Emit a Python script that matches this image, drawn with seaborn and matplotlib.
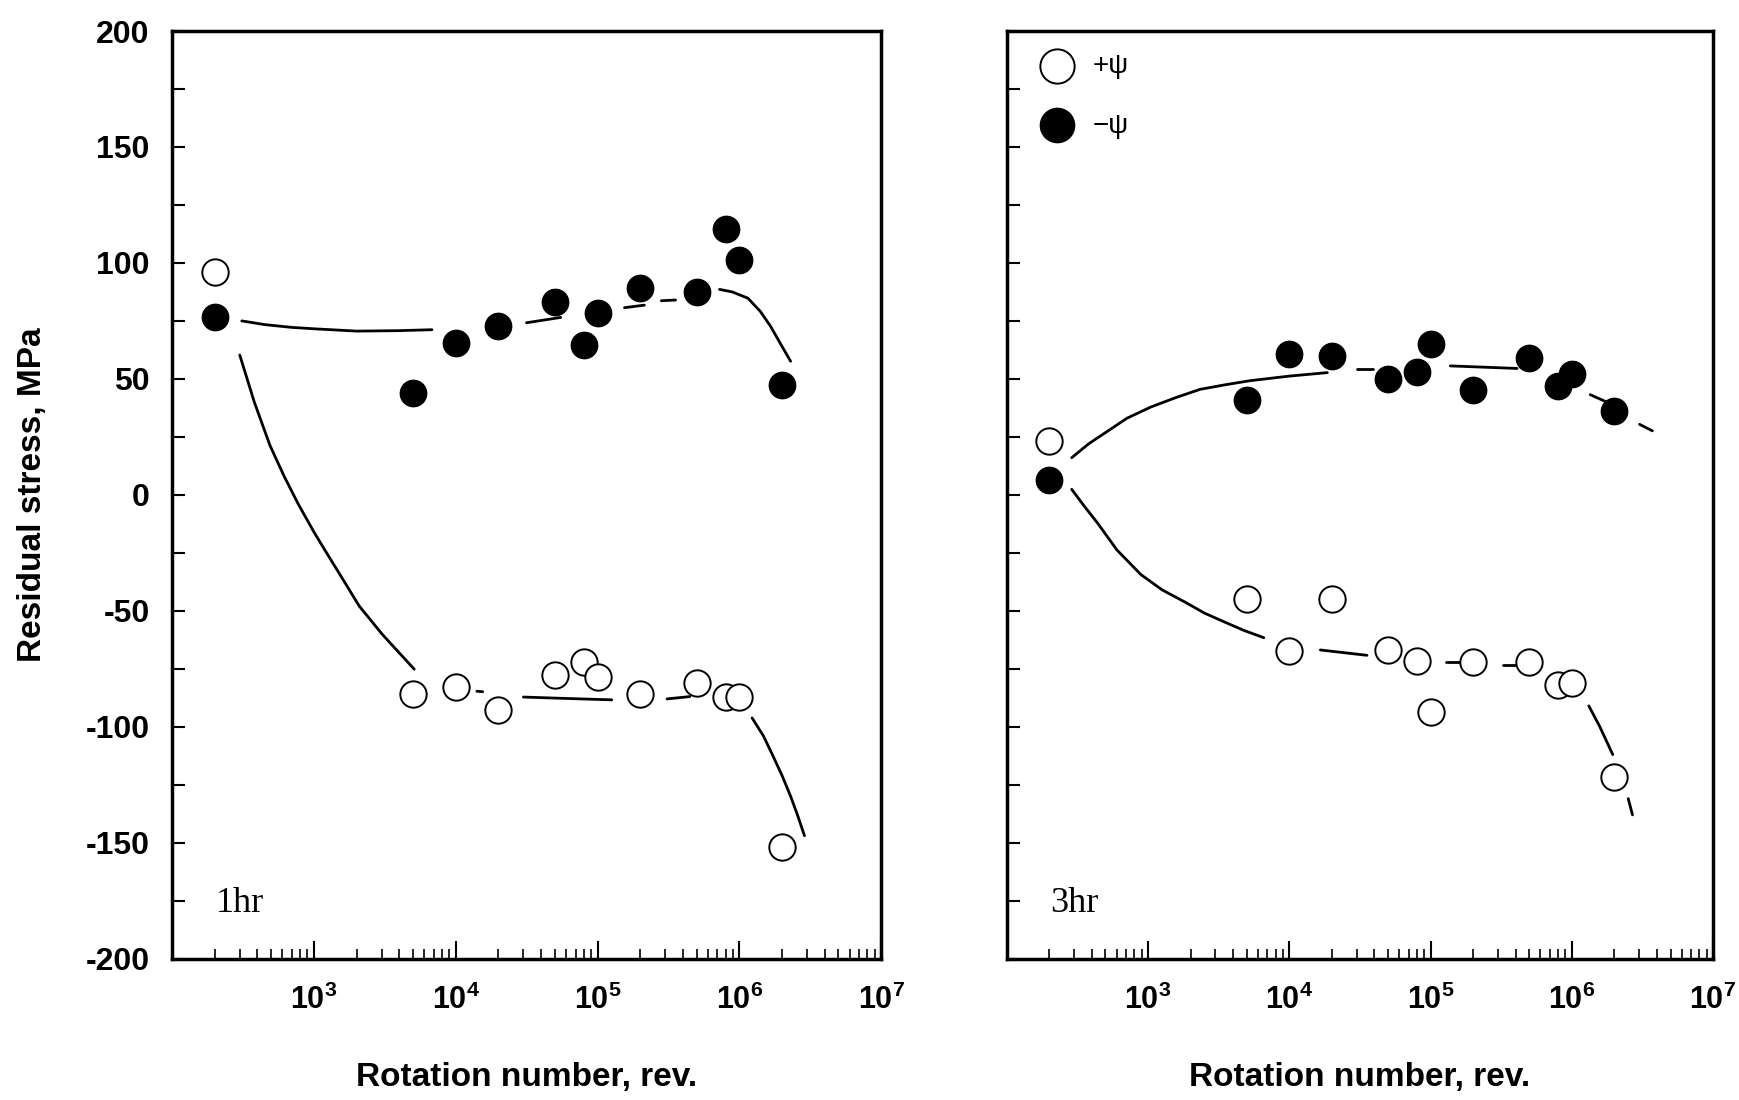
import pandas as pd
import matplotlib
matplotlib.use("Agg")
import matplotlib.pyplot as plt
import matplotlib.ticker as mticker
import seaborn as sns

# rotation numbers where stress was measured (rev.)
rev = [200, 5000, 1e4, 2e4, 5e4, 8e4, 1e5, 2e5, 5e5, 8e5, 1e6, 2e6]

# 1hr: residual stress, MPa
hr1_pos = [96, -86, -83, -92.6, -77.5, -72, -78.6, -86, -81, -87, -87, -152]
hr1_neg = [76.5, 44, 65.5, 72.7, 83.3, 64.4, 78.3, 89.3, 87.5, 114.7, 101.4, 47.4]

# 3hr: residual stress, MPa
hr3_pos = [23, -45, -67.4, -45, -67, -71.5, -93.8, -72, -72, -82, -81.3, -121.8]
hr3_neg = [6.2, 40.9, 60.6, 59.9, 50, 53, 65.1, 45, 59.1, 47, 52.3, 36.1]

# hand drawn trend curves, broken into pieces
hr1_neg_curve_rev = [310, 450, 700, 1000, 2000, 4000, 6800,
                     31600, 55000, 155000, 214000, 282000, 355000,
                     725000, 891000, 1150000, 1410000, 1660000, 2000000, 2300000]
hr1_neg_curve_val = [75, 73.4, 72.2, 71.6, 70.6, 70.8, 71.2,
                     74.2, 76.5, 80.7, 81.8, 83.7, 84,
                     88.6, 87.5, 84.8, 79, 72.7, 64, 57.6]
hr1_neg_curve_seg = [0, 0, 0, 0, 0, 0, 0, 1, 1, 2, 2, 3, 3, 4, 4, 4, 4, 4, 4, 4]

hr1_pos_curve_rev = [300, 380, 490, 617, 776, 1000, 1200, 1660, 2090, 3020, 3980, 5100,
                     14100, 15500, 30000, 60000, 126000, 309000, 447000,
                     1230000, 1480000, 1740000, 2000000, 2290000, 2570000, 2880000]
hr1_pos_curve_val = [60.3, 40, 21.3, 8, -4, -16, -24, -38, -48, -60, -68, -75.2,
                     -84.7, -84.9, -87.2, -87.8, -88.4, -88, -87,
                     -96.2, -104, -113, -121, -129.7, -138, -147]
hr1_pos_curve_seg = [0] * 12 + [1, 1, 2, 2, 2, 3, 3] + [4] * 7

hr3_neg_curve_rev = [288, 380, 513, 708, 1050, 1585, 2340, 3550, 5250, 10000, 18600,
                     30200, 38900, 138000, 410000, 1350000, 1740000, 3020000, 3720000]
hr3_neg_curve_val = [16, 22, 27.3, 33, 37.9, 42, 45.5, 47.5, 49.2, 51.2, 52.7,
                     54.2, 54.2, 55.6, 54.5, 43.2, 40.2, 30.4, 27.6]
hr3_neg_curve_seg = [0] * 11 + [1, 1, 2, 2, 3, 3, 4, 4]

hr3_pos_curve_rev = [288, 355, 437, 603, 891, 1260, 1860, 2510, 3470, 4790, 6600,
                     16600, 35500, 129000, 170000, 324000, 417000,
                     1320000, 1580000, 1950000, 2510000, 2690000]
hr3_pos_curve_val = [2.4, -5, -12, -23.8, -34.4, -41, -46.5, -51, -54.8, -58.5, -61.6,
                     -66.9, -69.2, -72.2, -72.2, -73.4, -73.4,
                     -91, -100, -112, -131, -138]
hr3_pos_curve_seg = [0] * 11 + [1, 1, 2, 2, 3, 3, 4, 4, 4, 5, 5]

xtick_vals = [1e3, 1e4, 1e5, 1e6, 1e7]
xtick_labels = [r"$\mathrm{10^{3}}$", r"$\mathrm{10^{4}}$", r"$\mathrm{10^{5}}$",
                r"$\mathrm{10^{6}}$", r"$\mathrm{10^{7}}$"]

sns.set_theme(style="ticks")
plt.rcParams["font.family"] = ["Liberation Sans", "DejaVu Sans"]
plt.rcParams["mathtext.fontset"] = "custom"
plt.rcParams["mathtext.rm"] = "Liberation Sans:bold"
plt.rcParams["axes.unicode_minus"] = False
for key in ["text.color", "axes.labelcolor", "xtick.color", "ytick.color", "axes.edgecolor"]:
    plt.rcParams[key] = "black"

fig = plt.figure(figsize=(17.4, 11), dpi=100)
ax1 = fig.add_axes([0.0989, 0.1285, 0.4075, 0.8433])
ax2 = fig.add_axes([0.5786, 0.1285, 0.4059, 0.8433])


def draw_panel(ax, pos, neg, curves, tag, show_legend):
    ax.set_xscale("log")
    for c_rev, c_val, c_seg in curves:
        dfc = pd.DataFrame({"rev": c_rev, "stress": c_val, "seg": c_seg})
        sns.lineplot(data=dfc, x="rev", y="stress", units="seg", estimator=None,
                     sort=False, color="black", lw=2.0, ax=ax, legend=False)
    sns.scatterplot(x=rev, y=pos, marker="o", s=360, color="white",
                    edgecolor="black", linewidth=1.4, ax=ax, zorder=3,
                    label="+\u03c8" if show_legend else None)
    sns.scatterplot(x=rev, y=neg, marker="o", s=360, color="black",
                    edgecolor="black", linewidth=1.0, ax=ax, zorder=3,
                    label="\u2212\u03c8" if show_legend else None)

    ax.set_xlim(1e2, 1e7)
    ax.set_ylim(-200, 200)
    ax.xaxis.set_major_locator(mticker.FixedLocator(xtick_vals))
    ax.xaxis.set_major_formatter(mticker.FixedFormatter(xtick_labels))
    ax.xaxis.set_minor_locator(mticker.LogLocator(base=10, subs=range(2, 10), numticks=20))
    ax.xaxis.set_minor_formatter(mticker.NullFormatter())
    ax.yaxis.set_major_locator(mticker.MultipleLocator(50))
    ax.yaxis.set_minor_locator(mticker.MultipleLocator(25))
    ax.tick_params(axis="x", which="major", direction="in", length=13, width=1.5,
                   labelsize=22, pad=19)
    ax.tick_params(axis="x", which="minor", direction="in", length=7, width=1.2)
    ax.tick_params(axis="y", which="both", direction="in", length=9, width=1.5,
                   labelsize=23, pad=16)
    for t in ax.get_yticklabels():
        t.set_fontweight("bold")
    for sp in ax.spines.values():
        sp.set_linewidth(2.5)
    ax.set_xlabel("Rotation number, rev.", fontsize=24, fontweight="bold", labelpad=33)
    ax.set_ylabel("")
    ax.text(0.062, 0.05, tag, transform=ax.transAxes, fontsize=26,
            family=["Liberation Serif", "DejaVu Serif"], ha="left", va="baseline")
    if show_legend:
        ax.legend(loc="upper left", frameon=False, fontsize=20, markerscale=1.3,
                  handletextpad=0.3, labelspacing=1.2, borderaxespad=0.4,
                  bbox_to_anchor=(0.0, 1.0))
    elif ax.get_legend() is not None:
        ax.get_legend().remove()


draw_panel(ax1, hr1_pos, hr1_neg,
           [(hr1_neg_curve_rev, hr1_neg_curve_val, hr1_neg_curve_seg),
            (hr1_pos_curve_rev, hr1_pos_curve_val, hr1_pos_curve_seg)],
           "1hr", False)
draw_panel(ax2, hr3_pos, hr3_neg,
           [(hr3_neg_curve_rev, hr3_neg_curve_val, hr3_neg_curve_seg),
            (hr3_pos_curve_rev, hr3_pos_curve_val, hr3_pos_curve_seg)],
           "3hr", True)
ax2.tick_params(axis="y", labelleft=False)

fig.text(33 / 1740, 0.55, "Residual stress, MPa", rotation=90, ha="center", va="center",
         fontsize=24, fontweight="bold")

fig.savefig("out.png", dpi=100, facecolor="white")
